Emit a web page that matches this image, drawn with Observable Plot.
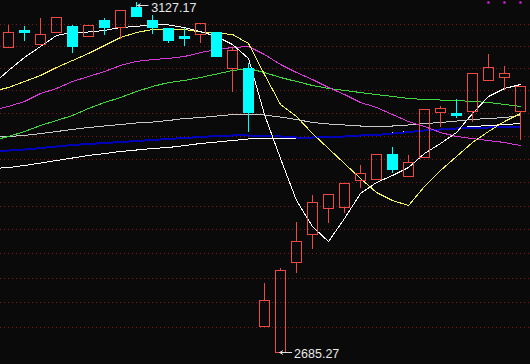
<!DOCTYPE html>
<html><head><meta charset="utf-8">
<script src="https://cdn.jsdelivr.net/npm/d3@7"></script>
<script src="https://cdn.jsdelivr.net/npm/@observablehq/plot@0.6"></script>
<style>
html,body{margin:0;padding:0;background:#0a0a0a;}
#chart{width:530px;height:364px;overflow:hidden;}
</style></head><body><div id="chart"></div>
<script>
// Daily candles (index 0..32)
const opens  = [3066.5,3089.3,3070.5,3085.3,3094.7,3081.2,3102.8,3092.0,3120.4,3102.8,3092.0,3081.2,3082.6,3086.6,3038.6,3038.6,2715.7,2685.27,2792.5,2826.7,2858.9,2860.2,2894.0,2895.2,2926.9,2899.0,2923.1,2979.7,2979.7,2981.0,3021.5,3026.7,2981.0];
const highs  = [3096.0,3094.7,3105.5,3105.5,3096.0,3096.0,3105.5,3115.0,3127.17,3109.6,3092.0,3092.0,3097.4,3086.6,3066.5,3045.2,2767.0,2785.2,2841.6,2875.1,2876.4,2890.2,2913.0,2926.9,2935.9,2925.7,2983.6,2988.8,2997.9,3030.7,3057.2,3041.3,3013.6];
const lows   = [3066.5,3074.5,3070.5,3085.3,3058.5,3080.0,3082.6,3077.2,3106.9,3083.9,3071.9,3067.8,3071.9,3053.2,3007.1,2955.2,2715.7,2685.27,2779.1,2808.3,2840.3,2852.7,2883.9,2895.2,2902.8,2899.0,2923.1,2961.6,2973.2,2968.1,3021.5,3009.7,2944.8];
const closes = [3085.3,3085.3,3083.9,3105.5,3066.5,3094.7,3092.0,3115.0,3106.9,3092.0,3074.5,3077.2,3097.4,3053.2,3061.2,2979.7,2746.6,2782.7,2818.1,2866.4,2876.4,2890.2,2901.6,2926.9,2906.6,2916.7,2983.6,2984.9,2975.8,3030.7,3039.9,3030.7,3013.6];

// Moving averages, index -1..32
const maIndex = [-1,0,1,2,3,4,5,6,7,8,9,10,11,12,13,14,15,16,17,18,19,20,21,22,23,24,25,26,27,28,29,30,31,32];
const ma5   = [3017.5,3036.0,3053.2,3067.8,3082.6,3086.6,3087.3,3089.3,3093.3,3094.7,3097.4,3096.7,3093.3,3087.9,3081.2,3070.5,3051.9,2978.3,2921.9,2868.9,2836.6,2818.1,2846.5,2877.7,2891.5,2900.3,2910.4,2928.2,2941.0,2955.1,2979.6,3001.8,3012.3,3017.5];
const ma10  = [3008.3,3013.6,3021.5,3029.4,3039.9,3049.2,3058.5,3069.2,3079.9,3086.6,3090.6,3091.3,3090.6,3087.3,3085.9,3083.9,3071.9,3030.7,2991.4,2975.8,2953.8,2934.6,2915.5,2896.5,2878.9,2868.9,2862.7,2886.4,2906.6,2924.4,2942.3,2956.4,2969.3,2979.6];
const ma20  = [2983.6,2988.8,2995.3,3005.7,3012.3,3021.5,3028.0,3034.6,3042.6,3047.9,3050.5,3051.9,3054.5,3059.8,3063.8,3066.5,3067.8,3057.2,3043.9,3033.3,3024.1,3013.6,3004.4,2994.0,2987.5,2978.3,2969.3,2962.8,2955.1,2950.0,2947.4,2944.8,2942.3,2938.4];
const ma30  = [2944.8,2950.0,2956.4,2964.1,2970.6,2977.1,2986.2,2994.0,3000.5,3008.3,3014.9,3020.1,3022.8,3026.7,3031.3,3035.9,3038.6,3033.3,3026.7,3021.5,3016.2,3012.3,3009.7,3007.0,3004.4,3001.8,2999.2,2997.9,2997.2,2996.6,2995.3,2994.0,2991.4,2988.8];
const ma60  = [2948.7,2950.0,2951.3,2953.8,2956.4,2959.0,2961.6,2963.5,2965.4,2967.4,2968.6,2970.6,2973.2,2974.4,2976.4,2978.3,2979.0,2977.7,2975.1,2971.9,2968.0,2966.1,2964.8,2963.5,2962.8,2963.5,2964.8,2966.7,2968.0,2969.9,2971.9,2973.2,2974.4,2977.1];
const ma120 = [2930.8,2932.0,2933.3,2935.2,2937.1,2939.1,2940.4,2941.6,2942.9,2944.2,2945.5,2946.8,2948.1,2949.3,2950.6,2951.3,2951.3,2950.6,2950.0,2948.7,2948.7,2949.3,2950.0,2951.3,2951.9,2953.8,2955.7,2957.7,2959.0,2960.3,2960.9,2961.6,2962.2,2962.8];
const ma250 = [2909.1,2910.4,2913.0,2916.1,2919.3,2922.5,2925.7,2928.2,2930.8,2932.7,2934.6,2935.9,2938.4,2941.0,2942.9,2944.8,2946.8,2947.4,2947.4,2947.4,2948.1,2948.7,2950.0,2951.3,2952.5,2954.5,2956.4,2958.4,2959.6,2960.9,2962.8,2964.1,2965.4,2966.7];

// Horizontal grid levels
const gridLevels = [2714.73,2744.19,2773.65,2803.11,2832.57,2862.03,2891.49,2920.95,2950.41,2979.87,3009.33,3038.79,3068.25,3097.71];

const highLabel = {index: 8, value: 3127.17, text: "3127.17"};
const lowLabel  = {index: 17, value: 2685.27, text: "2685.27"};
const signalIdx = [30, 31, 32];

const RED = "#ee4a44", CYAN = "#00ffff", BG = "#0a0a0a";

const candles = opens.map((o, i) => ({i, o, h: highs[i], l: lows[i], c: closes[i], up: closes[i] >= o}));
const up = candles.filter(d => d.up), down = candles.filter(d => !d.up);
const series = (vals) => maIndex.map((i, k) => ({i, v: vals[k]}));
const maLine = (vals, stroke, w = 1) => Plot.line(series(vals), {x: "i", y: "v", stroke, strokeWidth: w, clip: true, shapeRendering: "crispEdges"});

const chart = Plot.plot({
  width: 530, height: 364,
  marginTop: 0, marginBottom: 0, marginLeft: 0, marginRight: 0,
  style: {background: BG},
  x: {domain: [-0.5, 32.625], axis: null},
  y: {type: "log", domain: [2685.27, 3127.17], range: [352, 2], axis: null},
  marks: [
    Plot.ruleY(gridLevels, {stroke: "#7a1c1c", strokeDasharray: "1,3", shapeRendering: "crispEdges"}),
    maLine(ma250, "#ffffff"),
    maLine(ma120, "#0000b8", 2),
    maLine(ma60, "#c8c8c8"),
    maLine(ma30, "#3ed83e"),
    maLine(ma20, "#d83ad8"),
    maLine(ma10, "#f4f460"),
    maLine(ma5, "#ffffff"),
    // wicks
    Plot.ruleX(up, {x: "i", y1: d => Math.max(d.o, d.c), y2: "h", stroke: RED, shapeRendering: "crispEdges"}),
    Plot.ruleX(up, {x: "i", y1: "l", y2: d => Math.min(d.o, d.c), stroke: RED, shapeRendering: "crispEdges"}),
    Plot.ruleX(down, {x: "i", y1: "l", y2: "h", stroke: CYAN, shapeRendering: "crispEdges"}),
    // bodies
    Plot.rect(up, {x1: d => d.i - 0.28125, x2: d => d.i + 0.34375, y1: "o", y2: "c", fill: "none", stroke: RED, shapeRendering: "crispEdges"}),
    Plot.rect(down, {x1: d => d.i - 0.34375, x2: d => d.i + 0.34375, y1: "o", y2: "c", fill: CYAN, shapeRendering: "crispEdges"}),
    // high / low labels
    Plot.arrow([highLabel], {x1: d => d.index + 0.72, x2: d => d.index + 0.06, y1: "value", y2: "value", dy: 3, stroke: "#e0e0e0", strokeWidth: 1, headLength: 5}),
    Plot.text([highLabel], {x: d => d.index + 0.92, y: "value", text: "text", textAnchor: "start", dy: 5, fill: "#e8e8e8", fontSize: 12.5, fontFamily: "Liberation Sans"}),
    Plot.arrow([lowLabel], {x1: d => d.index + 0.7, x2: d => d.index - 0.05, y1: "value", y2: "value", stroke: "#e0e0e0", strokeWidth: 1, headLength: 5}),
    Plot.text([lowLabel], {x: d => d.index + 0.85, y: "value", text: "text", textAnchor: "start", dy: 1, fill: "#e8e8e8", fontSize: 12.5, fontFamily: "Liberation Sans"}),
    // signal markers
    Plot.dot(signalIdx, {x: d => d, frameAnchor: "top", dy: 2, r: 1.3, symbol: "square", fill: "#e020e0"})
  ]
});
document.getElementById("chart").appendChild(chart);
</script></body></html>
